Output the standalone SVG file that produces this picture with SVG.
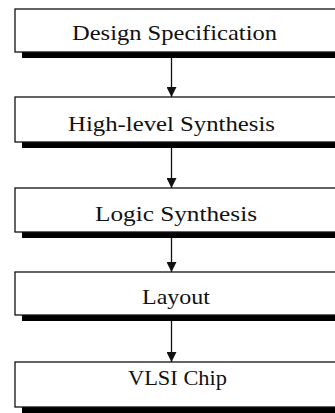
<svg xmlns="http://www.w3.org/2000/svg" width="335" height="413" viewBox="0 0 335 413">
<defs>
<style>
.box{fill:#fff;stroke:#111;stroke-width:1.3}
.sh{fill:#000}
.t{font-family:"Liberation Serif","Times New Roman",serif;font-size:22px;fill:#111}
.c{stroke:#111;stroke-width:1.3;fill:none}
</style>
<marker id="ah" markerWidth="10" markerHeight="10" refX="10" refY="5" orient="auto" markerUnits="userSpaceOnUse">
<path d="M0,0 L10,5 L0,10 Z" fill="#111"/>
</marker>
</defs>
<rect width="335" height="413" fill="#fff"/>
<g id="connectors">
<line class="c" x1="171.5" y1="58" x2="171.5" y2="97" marker-end="url(#ah)"/>
<line class="c" x1="171.5" y1="148" x2="171.5" y2="188" marker-end="url(#ah)"/>
<line class="c" x1="171.5" y1="238" x2="171.5" y2="272" marker-end="url(#ah)"/>
<line class="c" x1="171.5" y1="321" x2="171.5" y2="362" marker-end="url(#ah)"/>
</g>
<g id="design-spec">
<rect class="sh" x="22" y="52" width="320" height="6"/>
<rect class="box" x="15" y="9" width="330" height="43"/>
<text class="t" x="72" y="39.5" textLength="205" lengthAdjust="spacingAndGlyphs">Design Specification</text>
</g>
<g id="high-level">
<rect class="sh" x="22" y="142" width="320" height="6"/>
<rect class="box" x="15" y="97" width="330" height="45"/>
<text class="t" x="68" y="130.5" textLength="207" lengthAdjust="spacingAndGlyphs">High-level Synthesis</text>
</g>
<g id="logic">
<rect class="sh" x="22" y="232" width="320" height="6"/>
<rect class="box" x="15" y="188" width="330" height="44"/>
<text class="t" x="95" y="220.5" textLength="162" lengthAdjust="spacingAndGlyphs">Logic Synthesis</text>
</g>
<g id="layout">
<rect class="sh" x="22" y="315" width="320" height="6"/>
<rect class="box" x="15" y="272" width="330" height="43"/>
<text class="t" x="142" y="303.5" textLength="68" lengthAdjust="spacingAndGlyphs">Layout</text>
</g>
<g id="vlsi">
<rect class="sh" x="22" y="407" width="320" height="6"/>
<rect class="box" x="15" y="362" width="330" height="45"/>
<text class="t" x="128" y="385" textLength="99" lengthAdjust="spacingAndGlyphs">VLSI Chip</text>
</g>
</svg>
